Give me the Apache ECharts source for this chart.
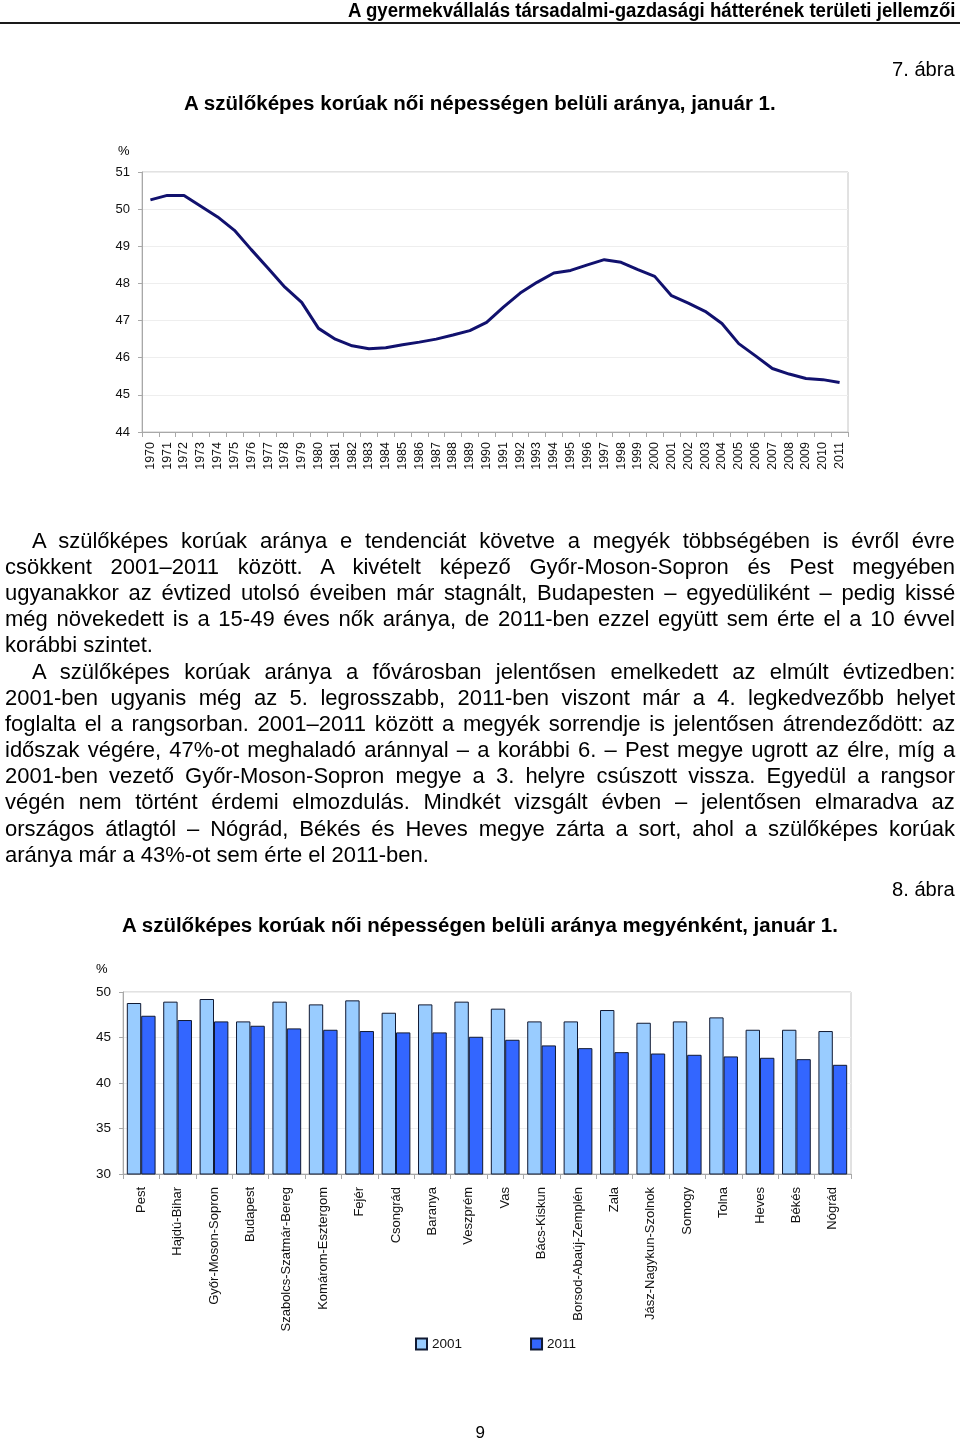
<!DOCTYPE html>
<html><head><meta charset="utf-8">
<script src="https://cdn.jsdelivr.net/npm/echarts@6/dist/echarts.min.js"></script>
<style>
html,body{margin:0;padding:0;background:#fff;}
body{width:960px;height:1440px;position:relative;overflow:hidden;font-family:"Liberation Sans",Arial,sans-serif;color:#000;}
#chart{position:absolute;left:0;top:0;width:960px;height:1440px;}
.t{position:absolute;white-space:nowrap;transform-origin:0 50%;}
.ln{position:absolute;white-space:nowrap;font-size:22px;line-height:26px;}
#rule{position:absolute;left:0;top:22px;width:960px;height:2px;background:#1a1a1a;}
</style></head>
<body>
<div id="chart"></div>
<div id="rule"></div>
<div id="texts"></div>
<script>
// ---------- data ----------
const years = ['1970','1971','1972','1973','1974','1975','1976','1977','1978','1979','1980','1981','1982','1983','1984','1985','1986','1987','1988','1989','1990','1991','1992','1993','1994','1995','1996','1997','1998','1999','2000','2001','2002','2003','2004','2005','2006','2007','2008','2009','2010','2011'];
const shareFertileAge = [50.25,50.37,50.37,50.08,49.79,49.43,48.91,48.41,47.90,47.49,46.79,46.50,46.32,46.24,46.27,46.35,46.42,46.50,46.61,46.73,46.95,47.36,47.74,48.03,48.28,48.35,48.50,48.64,48.57,48.37,48.19,47.67,47.47,47.25,46.92,46.38,46.05,45.71,45.56,45.44,45.41,45.33];
const lineYTicks = [44,45,46,47,48,49,50,51];

const counties = ['Pest','Hajdú-Bihar','Győr-Moson-Sopron','Budapest','Szabolcs-Szatmár-Bereg','Komárom-Esztergom','Fejér','Csongrád','Baranya','Veszprém','Vas','Bács-Kiskun','Borsod-Abaúj-Zemplén','Zala','Jász-Nagykun-Szolnok','Somogy','Tolna','Heves','Békés','Nógrád'];
const values2001 = [48.79,48.94,49.23,46.77,48.94,48.64,49.08,47.72,48.64,48.94,48.17,46.77,46.77,48.02,46.62,46.77,47.21,45.85,45.85,45.71];
const values2011 = [47.39,46.92,46.77,46.29,46.00,45.85,45.71,45.56,45.56,45.08,44.75,44.13,43.83,43.39,43.24,43.10,42.92,42.77,42.62,42.00];
const barYTicks = [30,35,40,45,50];
const seriesNames = ['2001','2011'];

// ---------- texts ----------
const header = 'A gyermekvállalás társadalmi-gazdasági hátterének területi jellemzői';
const fig7 = '7. ábra';
const title7 = 'A szülőképes korúak női népességen belüli aránya, január 1.';
const fig8 = '8. ábra';
const title8 = 'A szülőképes korúak női népességen belüli aránya megyénként, január 1.';
const paraLines = [
 ['A szülőképes korúak aránya e tendenciát követve a megyék többségében is évről évre', true, true],
 ['csökkent 2001–2011 között. A kivételt képező Győr-Moson-Sopron és Pest megyében', false, true],
 ['ugyanakkor az évtized utolsó éveiben már stagnált, Budapesten – egyedüliként – pedig kissé', false, true],
 ['még növekedett is a 15-49 éves nők aránya, de 2011-ben ezzel együtt sem érte el a 10 évvel', false, true],
 ['korábbi szintet.', false, false],
 ['A szülőképes korúak aránya a fővárosban jelentősen emelkedett az elmúlt évtizedben:', true, true],
 ['2001-ben ugyanis még az 5. legrosszabb, 2011-ben viszont már a 4. legkedvezőbb helyet', false, true],
 ['foglalta el a rangsorban. 2001–2011 között a megyék sorrendje is jelentősen átrendeződött: az', false, true],
 ['időszak végére, 47%-ot meghaladó aránnyal – a korábbi 6. – Pest megye ugrott az élre, míg a', false, true],
 ['2001-ben vezető Győr-Moson-Sopron megye a 3. helyre csúszott vissza. Egyedül a rangsor', false, true],
 ['végén nem történt érdemi elmozdulás. Mindkét vizsgált évben – jelentősen elmaradva az', false, true],
 ['országos átlagtól – Nógrád, Békés és Heves megye zárta a sort, ahol a szülőképes korúak', false, true],
 ['aránya már a 43%-ot sem érte el 2011-ben.', false, false]
];

const box = document.getElementById('texts');
function fitText(str, x1, x2, cy, size, bold){
  const s = document.createElement('span');
  s.className='t'; s.textContent=str;
  s.style.fontSize=size+'px'; s.style.fontWeight=bold?'bold':'normal';
  s.style.lineHeight=(size+4)+'px';
  box.appendChild(s);
  const w = s.offsetWidth;
  s.style.left=x1+'px'; s.style.top=(cy-(size+4)/2)+'px';
  s.style.transform='scaleX('+((x2-x1)/w)+')';
}
function plainText(str, x, cy, size){
  const s = document.createElement('span');
  s.className='t'; s.textContent=str; s.style.fontSize=size+'px';
  s.style.lineHeight=(size+4)+'px';
  box.appendChild(s);
  s.style.left=(x - s.offsetWidth/2)+'px'; s.style.top=(cy-(size+4)/2)+'px';
}
fitText(header, 348, 955, 11, 19.5, true);
fitText(fig7, 892, 955, 70, 19.5, false);
fitText(title7, 184, 776, 104, 19.5, true);
fitText(fig8, 892, 955, 890, 19.5, false);
fitText(title8, 122, 838, 926, 19.5, true);
plainText('9', 480, 1432, 17);
plainText('%', 124, 150, 13);
plainText('%', 102, 968, 13);

const lineCenters = [541,567,593,619,645,672,698,724,750,776,802,829,855];
paraLines.forEach((l,i)=>{
  const d=document.createElement('div');
  d.className='ln'; d.textContent=l[0];
  const left = l[1]?32:5;
  d.style.left=left+'px'; d.style.top=(lineCenters[i]-13)+'px';
  box.appendChild(d);
  if(l[2]){
    const w=d.offsetWidth; const spaces=(l[0].match(/ /g)||[]).length;
    d.style.wordSpacing=((955-left-w)/spaces)+'px';
  }
});

// ---------- chart ----------
const chart = echarts.init(document.getElementById('chart'), null, {renderer:'canvas'});
const axisGray = '#a8a8a8';
const labelFont = {color:'#111', fontFamily:'Liberation Sans, Arial, sans-serif'};
chart.setOption({
  animation:false,
  backgroundColor:'transparent',
  grid:[
    {left:142, top:172, width:706, height:260, show:true, borderColor:'#c4c4c4', borderWidth:1, backgroundColor:'transparent'},
    {left:123, top:992, width:728, height:182, show:true, borderColor:'#c4c4c4', borderWidth:1, backgroundColor:'transparent'}
  ],
  legend:{
    data:seriesNames, left:415, top:1337, padding:0, itemWidth:11, itemHeight:11, itemGap:68,
    textStyle:Object.assign({fontSize:13.5}, labelFont), icon:'rect'
  },
  xAxis:[
    {type:'category', gridIndex:0, data:years, boundaryGap:true,
     axisLine:{lineStyle:{color:axisGray}}, axisTick:{show:true, length:5, lineStyle:{color:axisGray}, alignWithLabel:false},
     axisLabel:Object.assign({interval:0, rotate:90, fontSize:12.5, margin:10}, labelFont), splitLine:{show:false}},
    {type:'category', gridIndex:1, data:counties, boundaryGap:true,
     axisLine:{lineStyle:{color:axisGray}}, axisTick:{show:true, length:5, lineStyle:{color:axisGray}},
     axisLabel:Object.assign({interval:0, rotate:90, fontSize:13, margin:13}, labelFont), splitLine:{show:false}}
  ],
  yAxis:[
    {type:'value', gridIndex:0, min:lineYTicks[0], max:lineYTicks[lineYTicks.length-1], interval:1,
     axisLine:{show:true, lineStyle:{color:axisGray}}, axisTick:{show:true, length:4, lineStyle:{color:axisGray}},
     axisLabel:Object.assign({fontSize:13, margin:12}, labelFont),
     splitLine:{show:true, lineStyle:{color:'#eeeeee'}}},
    {type:'value', gridIndex:1, min:barYTicks[0], max:barYTicks[barYTicks.length-1], interval:5,
     axisLine:{show:true, lineStyle:{color:axisGray}}, axisTick:{show:true, length:4, lineStyle:{color:axisGray}},
     axisLabel:Object.assign({fontSize:13.5, margin:12}, labelFont),
     splitLine:{show:true, lineStyle:{color:'#eeeeee'}}}
  ],
  series:[
    {type:'line', xAxisIndex:0, yAxisIndex:0, data:shareFertileAge, symbol:'none',
     lineStyle:{color:'#11116e', width:3}, itemStyle:{color:'#11116e'}},
    {name:seriesNames[0], type:'bar', xAxisIndex:1, yAxisIndex:1, data:values2001,
     barGap:'0%', barCategoryGap:'21%',
     itemStyle:{color:'#99ccff', borderColor:'#111a33', borderWidth:1}},
    {name:seriesNames[1], type:'bar', xAxisIndex:1, yAxisIndex:1, data:values2011,
     barGap:'0%', barCategoryGap:'21%',
     itemStyle:{color:'#3366ff', borderColor:'#111a33', borderWidth:1}}
  ]
});
</script>
</body></html>
